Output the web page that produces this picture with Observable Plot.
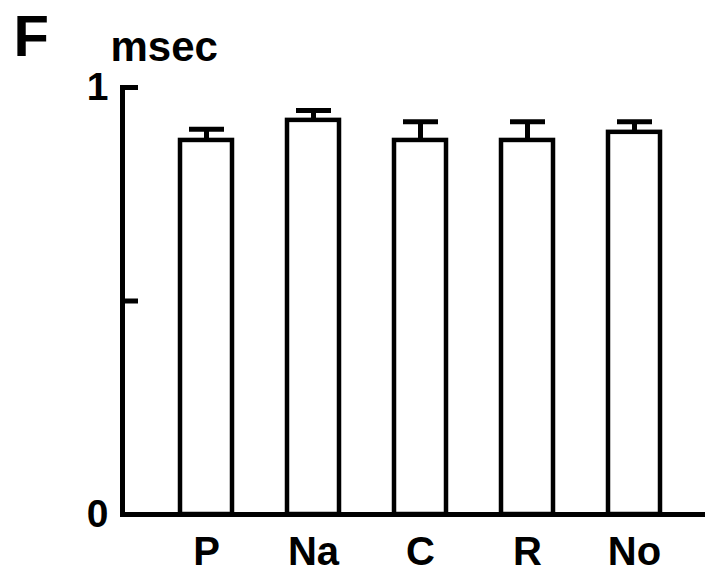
<!DOCTYPE html>
<html>
<head>
<meta charset="utf-8">
<script src="https://cdn.jsdelivr.net/npm/d3@7"></script>
<script src="https://cdn.jsdelivr.net/npm/@observablehq/plot@0.6"></script>
<style>
  html, body { margin: 0; padding: 0; background: #fff; }
  svg { display: block; }
</style>
</head>
<body>
<div id="chart"></div>
<script>
// Data
const categories = ["P", "Na", "C", "R", "No"];
const means = [0.876, 0.923, 0.876, 0.876, 0.895];
const upper = [0.902, 0.946, 0.920, 0.920, 0.920];
const yTicks = [0, 0.5, 1];
const yTickLabels = ["0", "", "1"];
const panelLabel = "F";
const unitLabel = "msec";

const data = categories.map((c, i) => ({cat: c, value: means[i], upper: upper[i]}));

const font = "'Liberation Sans', Arial, Helvetica, sans-serif";

const chart = Plot.plot({
  width: 709,
  height: 575,
  marginLeft: 122,
  marginRight: 4,
  marginTop: 87,
  marginBottom: 61,
  style: {fontFamily: font, background: "white", color: "black"},
  x: {domain: categories, range: [122, 718], paddingInner: 0.472, paddingOuter: 0.5, axis: null},
  y: {domain: [0, 1], axis: null},
  marks: [
    Plot.ruleX(data, {x: "cat", y1: "value", y2: "upper", stroke: "black", strokeWidth: 5}),
    Plot.tickY(data, {x: "cat", y: "upper", stroke: "black", strokeWidth: 5, insetLeft: 11, insetRight: 10}),
    Plot.barY(data, {x: "cat", y: "value", fill: "white", stroke: "black", strokeWidth: 4.5, insetLeft: 2, insetRight: 2}),
    Plot.frame({anchor: "left", stroke: "black", strokeWidth: 5}),
    Plot.ruleY([0], {stroke: "black", strokeWidth: 5}),
    Plot.axisY({
      ticks: yTicks,
      tickSize: -16,
      strokeWidth: 5,
      tickPadding: 30,
      fontSize: 39,
      fontWeight: "bold",
      tickFormat: (d) => yTickLabels[yTicks.indexOf(d)],
      label: null
    }),
    Plot.axisX({
      tickSize: 0,
      tickPadding: 22,
      fontSize: 40,
      fontWeight: "bold",
      label: null
    }),
    Plot.text([panelLabel], {
      frameAnchor: "top-left", text: (d) => d, textAnchor: "start", lineAnchor: "bottom",
      dx: -109, dy: -32, fontSize: 58, fontWeight: "bold", fill: "black"
    }),
    Plot.text([unitLabel], {
      frameAnchor: "top-left", text: (d) => d, textAnchor: "start", lineAnchor: "bottom",
      dx: -12, dy: -27, fontSize: 42, fontWeight: "bold", fill: "black"
    })
  ]
});

document.getElementById("chart").appendChild(chart);
</script>
</body>
</html>
